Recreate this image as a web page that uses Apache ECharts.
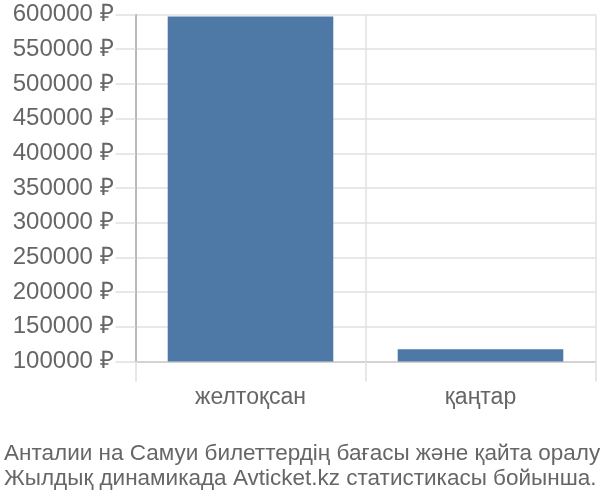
<!DOCTYPE html>
<html><head><meta charset="utf-8">
<script src="https://cdn.jsdelivr.net/npm/echarts@6/dist/echarts.min.js"></script>
<style>html,body{margin:0;padding:0;background:#fff}#c{width:600px;height:500px}</style>
</head><body><div id="c"></div>
<script>
const categories = ['желтоқсан', 'қаңтар'];
const prices = [597000, 117700];
const yTicks = { min: 100000, max: 600000, interval: 50000 };
const titleLines = ['Анталии на Самуи билеттердің бағасы және қайта оралу', 'Жылдық динамикада Avticket.kz статистикасы бойынша.'];

const chart = echarts.init(document.getElementById('c'), null, { renderer: 'canvas' });
const font = 'Liberation Sans, Arial, sans-serif';
chart.setOption({
  animation: false,
  textStyle: { fontFamily: font },
  title: {
    text: titleLines.join('\n'),
    left: -1, top: 436,
    textStyle: { fontFamily: font, fontSize: 22.5, fontWeight: 'normal', color: '#666', lineHeight: 25 }
  },
  grid: { left: 135.5, right: 4.5, top: 14.5, bottom: 138.5, containLabel: false },
  xAxis: {
    type: 'category',
    data: categories,
    axisLine: { show: true, lineStyle: { color: '#ccc', width: 1.5 } },
    axisTick: { show: true, length: 20, interval: 0, lineStyle: { color: '#e0e0e0', width: 1.5 } },
    splitLine: { show: true, interval: 0, lineStyle: { color: '#e0e0e0', width: 1.5 } },
    axisLabel: { color: '#666', fontSize: 23, margin: 25, fontFamily: font }
  },
  yAxis: {
    type: 'value',
    min: yTicks.min, max: yTicks.max, interval: yTicks.interval,
    axisLine: { show: true, lineStyle: { color: '#aaa', width: 1.5 } },
    axisTick: { show: true, length: 20, lineStyle: { color: '#e0e0e0', width: 1.5 } },
    splitLine: { show: true, lineStyle: { color: '#e0e0e0', width: 1.5 } },
    axisLabel: { color: '#666', fontSize: 24, margin: 22, fontFamily: font, formatter: v => v + ' ₽' }
  },
  series: [{
    type: 'bar',
    data: prices,
    barWidth: '72%',
    itemStyle: { color: '#4e79a7' },
    z: 3
  }]
});
</script></body></html>
